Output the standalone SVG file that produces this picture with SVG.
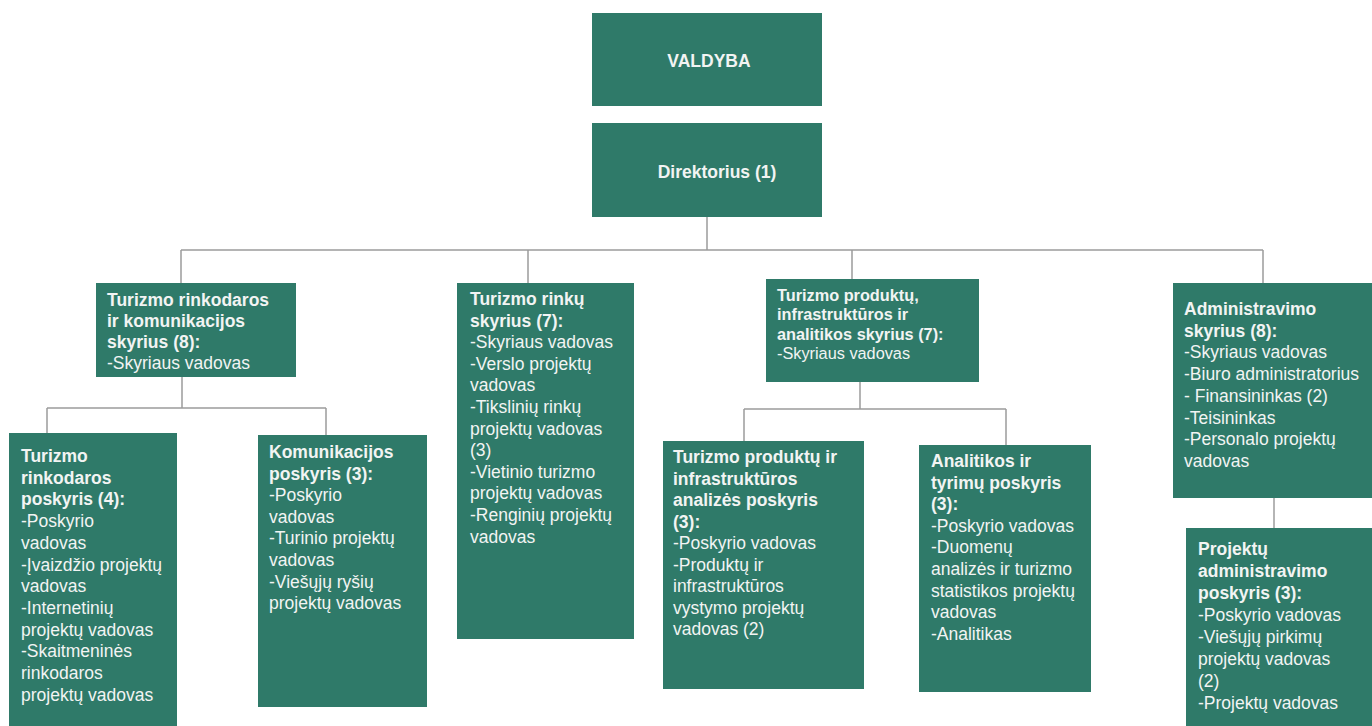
<svg xmlns="http://www.w3.org/2000/svg" width="1372" height="726" viewBox="0 0 1372 726">
<style>
.box{fill:#2f7a69;}
.t{font-family:"Liberation Sans",Arial,sans-serif;font-size:17.5px;fill:#f2f4f3;}
.s{font-size:16.3px;}
.b{font-weight:bold;}
.c{text-anchor:middle;}
.ln{stroke:#9c9c9c;stroke-width:1.5;fill:none;}
</style>
<rect width="1372" height="726" fill="#ffffff"/>
<g id="connectors">
<path class="ln" d="M707 217V250M181 250H1263M181 250V283M528 250V283M852 250V279M1263 250V283"/>
<path class="ln" d="M182 377V408M47 408H326M47 408V433M326 408V435"/>
<path class="ln" d="M860 382V409M744 409H1006M744 409V441M1006 409V445"/>
<path class="ln" d="M1274 498V528"/>
</g>
<g id="valdyba">
<rect class="box" x="592" y="13" width="230" height="93"/>
<text class="t b c" x="709" y="67">VALDYBA</text>
</g>
<g id="direktorius">
<rect class="box" x="592" y="123" width="230" height="94"/>
<text class="t b c" x="717" y="178">Direktorius (1)</text>
</g>
<g id="rinkodaros-skyrius">
<rect class="box" x="96" y="283" width="200" height="94"/>
<text class="t" x="107" y="306"><tspan class="b">Turizmo rinkodaros</tspan><tspan class="b" x="107" dy="21">ir komunikacijos</tspan><tspan class="b" x="107" dy="21">skyrius (8):</tspan><tspan x="107" dy="21">-Skyriaus vadovas</tspan></text>
</g>
<g id="rinku-skyrius">
<rect class="box" x="457" y="283" width="177" height="356"/>
<text class="t" x="470" y="305"><tspan class="b">Turizmo rinkų</tspan><tspan class="b" x="470" dy="21.6">skyrius (7):</tspan><tspan x="470" dy="21.6">-Skyriaus vadovas</tspan><tspan x="470" dy="21.6">-Verslo projektų</tspan><tspan x="470" dy="21.6">vadovas</tspan><tspan x="470" dy="21.6">-Tikslinių rinkų</tspan><tspan x="470" dy="21.6">projektų vadovas</tspan><tspan x="470" dy="21.6">(3)</tspan><tspan x="470" dy="21.6">-Vietinio turizmo</tspan><tspan x="470" dy="21.6">projektų vadovas</tspan><tspan x="470" dy="21.6">-Renginių projektų</tspan><tspan x="470" dy="21.6">vadovas</tspan></text>
</g>
<g id="produktu-skyrius">
<rect class="box" x="766" y="279" width="213" height="103"/>
<text class="t s" x="777" y="301"><tspan class="b">Turizmo produktų,</tspan><tspan class="b" x="777" dy="19.4">infrastruktūros ir</tspan><tspan class="b" x="777" dy="19.4">analitikos skyrius (7):</tspan><tspan x="777" dy="19.4">-Skyriaus vadovas</tspan></text>
</g>
<g id="administravimo-skyrius">
<rect class="box" x="1173" y="283" width="199" height="215"/>
<text class="t" x="1184" y="315"><tspan class="b">Administravimo</tspan><tspan class="b" x="1184" dy="21.7">skyrius (8):</tspan><tspan x="1184" dy="21.7">-Skyriaus vadovas</tspan><tspan x="1184" dy="21.7">-Biuro administratorius</tspan><tspan x="1184" dy="21.7">- Finansininkas (2)</tspan><tspan x="1184" dy="21.7">-Teisininkas</tspan><tspan x="1184" dy="21.7">-Personalo projektų</tspan><tspan x="1184" dy="21.7">vadovas</tspan></text>
</g>
<g id="rinkodaros-poskyris">
<rect class="box" x="9" y="433" width="168" height="300"/>
<text class="t" x="21" y="462"><tspan class="b">Turizmo</tspan><tspan class="b" x="21" dy="21.7">rinkodaros</tspan><tspan class="b" x="21" dy="21.7">poskyris (4):</tspan><tspan x="21" dy="21.7">-Poskyrio</tspan><tspan x="21" dy="21.7">vadovas</tspan><tspan x="21" dy="21.7">-Įvaizdžio projektų</tspan><tspan x="21" dy="21.7">vadovas</tspan><tspan x="21" dy="21.7">-Internetinių</tspan><tspan x="21" dy="21.7">projektų vadovas</tspan><tspan x="21" dy="21.7">-Skaitmeninės</tspan><tspan x="21" dy="21.7">rinkodaros</tspan><tspan x="21" dy="21.7">projektų vadovas</tspan></text>
</g>
<g id="komunikacijos-poskyris">
<rect class="box" x="258" y="435" width="169" height="272"/>
<text class="t" x="269" y="458"><tspan class="b">Komunikacijos</tspan><tspan class="b" x="269" dy="21.6">poskyris (3):</tspan><tspan x="269" dy="21.6">-Poskyrio</tspan><tspan x="269" dy="21.6">vadovas</tspan><tspan x="269" dy="21.6">-Turinio projektų</tspan><tspan x="269" dy="21.6">vadovas</tspan><tspan x="269" dy="21.6">-Viešųjų ryšių</tspan><tspan x="269" dy="21.6">projektų vadovas</tspan></text>
</g>
<g id="produktu-poskyris">
<rect class="box" x="663" y="441" width="201" height="248"/>
<text class="t" x="673" y="463"><tspan class="b">Turizmo produktų ir</tspan><tspan class="b" x="673" dy="21.5">infrastruktūros</tspan><tspan class="b" x="673" dy="21.5">analizės poskyris</tspan><tspan class="b" x="673" dy="21.5">(3):</tspan><tspan x="673" dy="21.5">-Poskyrio vadovas</tspan><tspan x="673" dy="21.5">-Produktų ir</tspan><tspan x="673" dy="21.5">infrastruktūros</tspan><tspan x="673" dy="21.5">vystymo projektų</tspan><tspan x="673" dy="21.5">vadovas (2)</tspan></text>
</g>
<g id="analitikos-poskyris">
<rect class="box" x="919" y="445" width="172" height="247"/>
<text class="t" x="931" y="467"><tspan class="b">Analitikos ir</tspan><tspan class="b" x="931" dy="21.6">tyrimų poskyris</tspan><tspan class="b" x="931" dy="21.6">(3):</tspan><tspan x="931" dy="21.6">-Poskyrio vadovas</tspan><tspan x="931" dy="21.6">-Duomenų</tspan><tspan x="931" dy="21.6">analizės ir turizmo</tspan><tspan x="931" dy="21.6">statistikos projektų</tspan><tspan x="931" dy="21.6">vadovas</tspan><tspan x="931" dy="21.6">-Analitikas</tspan></text>
</g>
<g id="projektu-poskyris">
<rect class="box" x="1186" y="528" width="186" height="205"/>
<text class="t" x="1198" y="555"><tspan class="b">Projektų</tspan><tspan class="b" x="1198" dy="22">administravimo</tspan><tspan class="b" x="1198" dy="22">poskyris (3):</tspan><tspan x="1198" dy="22">-Poskyrio vadovas</tspan><tspan x="1198" dy="22">-Viešųjų pirkimų</tspan><tspan x="1198" dy="22">projektų vadovas</tspan><tspan x="1198" dy="22">(2)</tspan><tspan x="1198" dy="22">-Projektų vadovas</tspan></text>
</g>
</svg>
